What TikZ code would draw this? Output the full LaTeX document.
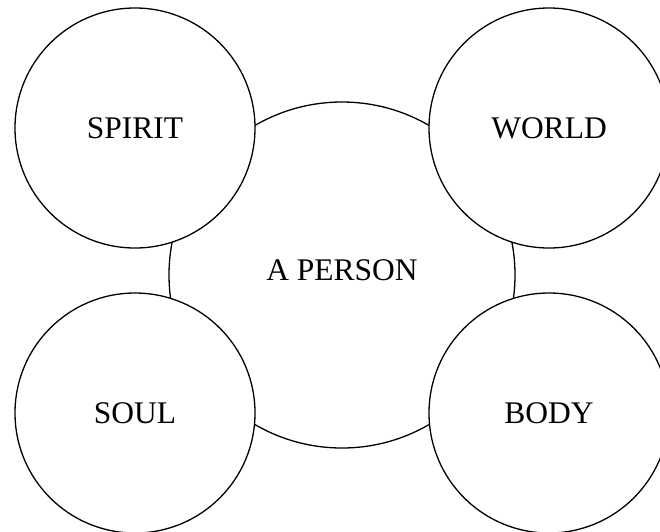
\documentclass[tikz,border=0pt]{standalone}
\usepackage{fontspec}
\setmainfont{Liberation Serif}
\begin{document}
\begin{tikzpicture}[x=1pt,y=-1pt,
  ring/.style={circle, draw=black, line width=1.3pt, inner sep=0pt},
  corner/.style={ring, fill=white, minimum size=240pt},
  lbl/.style={font=\fontsize{31.5}{33}\selectfont, text=black}]
\useasboundingbox (0,0) rectangle (660,531);
\node[ring, minimum size=346pt] (person) at (342,275) {};
\node[lbl] (personlabel) at (342,270) {A PERSON};
\node[corner, lbl] (spirit) at (135,128) {SPIRIT};
\node[corner, lbl] (world) at (549,128) {WORLD};
\node[corner, lbl] (soul) at (135,413) {SOUL};
\node[corner, lbl] (body) at (549,413) {BODY};
\end{tikzpicture}
\end{document}
